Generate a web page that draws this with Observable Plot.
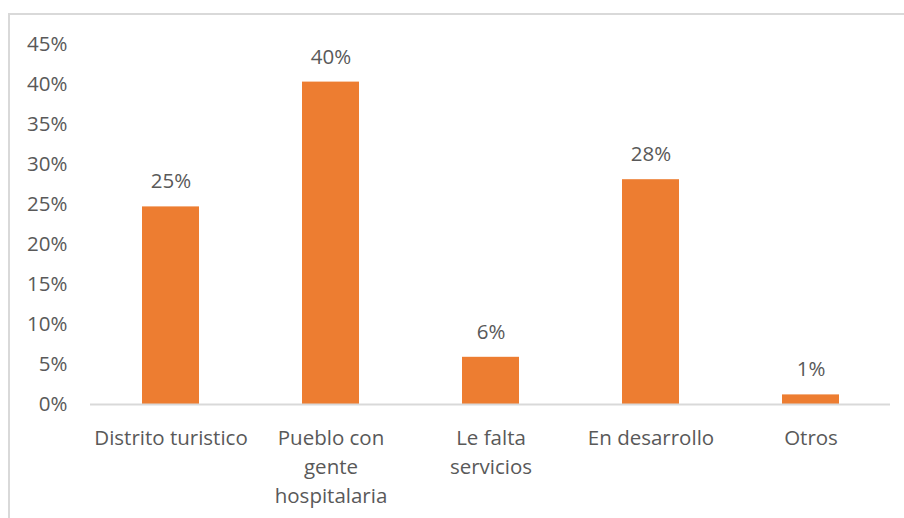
<!DOCTYPE html>
<html>
<head>
<meta charset="utf-8">
<script src="https://cdn.jsdelivr.net/npm/d3@7"></script>
<script src="https://cdn.jsdelivr.net/npm/@observablehq/plot@0.6"></script>
<style>
  html, body { margin: 0; padding: 0; background: #fff; overflow: hidden; }
  #wrap { position: relative; width: 904px; height: 518px; }
  #frame { position: absolute; left: 8px; top: 13px; width: 920px; height: 540px;
           border-top: 2px solid #d9d9d9; border-left: 2px solid #d9d9d9; box-sizing: border-box; }
  #chart { position: absolute; left: 0; top: 0; }
</style>
</head>
<body>
<div id="wrap"><div id="frame"></div><div id="chart"></div></div>
<script>
const categories = ["Distrito turistico", "Pueblo con gente hospitalaria", "Le falta servicios", "En desarrollo", "Otros"];
const tickLabels = ["Distrito turistico", "Pueblo con\ngente\nhospitalaria", "Le falta\nservicios", "En desarrollo", "Otros"];
const values = [0.247, 0.403, 0.059, 0.281, 0.012];
const valueLabels = ["25%", "40%", "6%", "28%", "1%"];
const yTicks = [0, 0.05, 0.10, 0.15, 0.20, 0.25, 0.30, 0.35, 0.40, 0.45];

const data = categories.map((c, i) => ({cat: c, value: values[i], label: valueLabels[i]}));
const labelOf = new Map(categories.map((c, i) => [c, tickLabels[i]]));
const FS = 20.5;

const chart = Plot.plot({
  width: 904,
  height: 518,
  marginLeft: 90,
  marginRight: 14,
  marginTop: 44,
  marginBottom: 114,
  style: {fontFamily: "'Open Sans', sans-serif", fontSize: FS + "px", color: "#595959", background: "transparent"},
  x: {domain: categories, paddingInner: 0.646, paddingOuter: 0.323, label: null},
  y: {domain: [0, 0.45], label: null},
  marks: [
    Plot.barY(data, {x: "cat", y: "value", fill: "#ED7D31"}),
    Plot.ruleY([0], {stroke: "#d9d9d9", strokeWidth: 2}),
    Plot.text(data, {x: "cat", y: "value", text: "label", dy: -25, fill: "#595959", fontSize: FS}),
    Plot.axisY({ticks: yTicks, tickFormat: d => Math.round(d * 100) + "%", tickSize: 0, tickPadding: 23, label: null, fontSize: FS, fill: "#595959"}),
    Plot.axisX({tickSize: 0, tickPadding: 20, tickFormat: d => labelOf.get(d), lineHeight: 1.42, label: null, fontSize: FS, fill: "#595959"})
  ]
});
document.getElementById("chart").appendChild(chart);
</script>
</body>
</html>
